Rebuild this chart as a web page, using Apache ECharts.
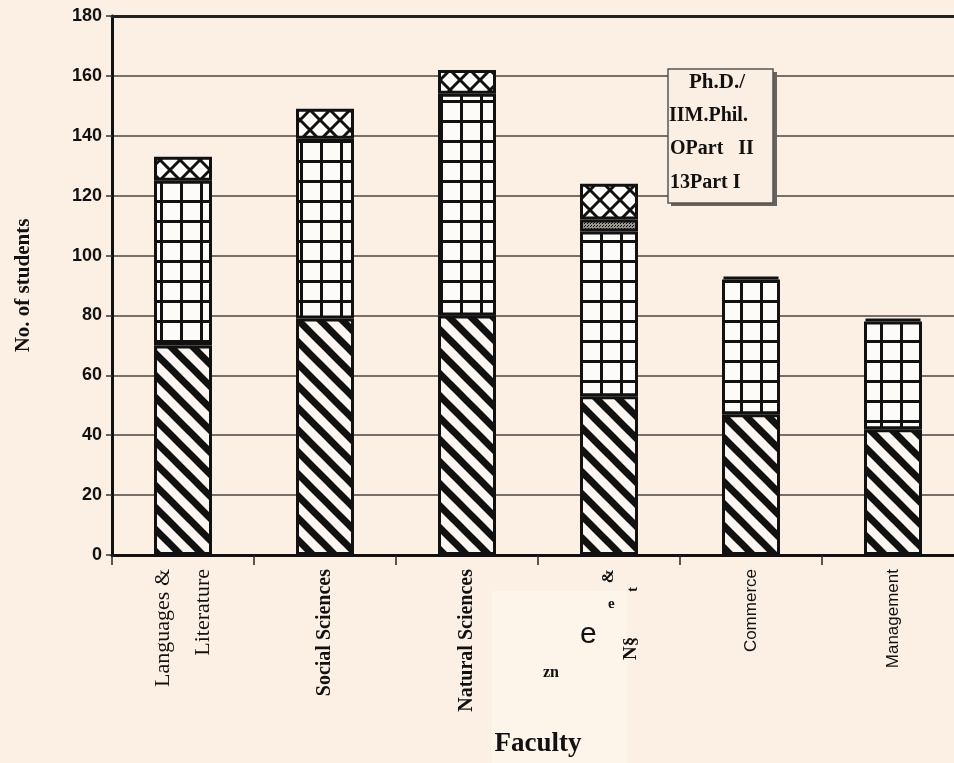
<!DOCTYPE html>
<html>
<head>
<meta charset="utf-8">
<title>No. of students by faculty</title>
<script src="https://cdn.jsdelivr.net/npm/echarts@6/dist/echarts.min.js"></script>
<style>
  html, body { margin: 0; padding: 0; background: #fcf0e5; }
  #main { width: 954px; height: 763px; }
</style>
</head>
<body>
<div id="main"></div>
<script>
// data
const faculties = ['Languages &\nLiterature', 'Social Sciences', 'Natural Sciences', '&', 'Commerce', 'Management'];
const partI = [70, 79, 80, 53, 47, 42];
const partII = [55, 60, 74, 55, 45, 36];
const mphil = [null, null, null, 4, 1, 1];
const phd = [8, 10, 8, 12, null, null];
const yTicks = [0, 20, 40, 60, 80, 100, 120, 140, 160, 180];

const chart = echarts.init(document.getElementById('main'));

// small canvases used as fill patterns
function makeTile(size, draw) {
  const c = document.createElement('canvas');
  c.width = size;
  c.height = size;
  draw(c.getContext('2d'), size);
  return c;
}

// diagonal lines that run past the tile so the edges join up
function diag(ctx, s, dir) {
  for (const x0 of [-s, 0, s]) {
    ctx.beginPath();
    if (dir > 0) {
      ctx.moveTo(x0 - s, -s);
      ctx.lineTo(x0 + 2 * s, 2 * s);
    } else {
      ctx.moveTo(x0 + 2 * s, -s);
      ctx.lineTo(x0 - s, 2 * s);
    }
    ctx.stroke();
  }
}

const hatch = makeTile(22, (ctx, s) => {
  ctx.fillStyle = '#fbf6f1';
  ctx.fillRect(0, 0, s, s);
  ctx.strokeStyle = '#111';
  ctx.lineWidth = 7;
  diag(ctx, s, 1);
});

const grid = makeTile(20, (ctx, s) => {
  ctx.fillStyle = '#fdfbf8';
  ctx.fillRect(0, 0, s, s);
  ctx.fillStyle = '#111';
  ctx.fillRect(0, 0, 3, s);
  ctx.fillRect(0, 0, s, 3);
});

const cross = makeTile(20, (ctx, s) => {
  ctx.fillStyle = '#fdfbf8';
  ctx.fillRect(0, 0, s, s);
  ctx.strokeStyle = '#111';
  ctx.lineWidth = 3;
  diag(ctx, s, 1);
  diag(ctx, s, -1);
});

const dots = makeTile(3, (ctx, s) => {
  ctx.fillStyle = '#9a948e';
  ctx.fillRect(0, 0, s, s);
  ctx.fillStyle = '#111';
  ctx.fillRect(0, 0, 1, 1);
  ctx.fillRect(2, 1, 1, 1);
});

function pat(c) {
  return { image: c, repeat: 'repeat' };
}

function barSeries(name, data, tile) {
  return {
    name: name,
    type: 'bar',
    stack: 'all',
    barWidth: 58,
    data: data,
    itemStyle: {
      color: pat(tile),
      borderColor: '#111',
      borderWidth: 3
    }
  };
}

const serif = '"Liberation Serif", "DejaVu Serif", serif';
const sans = '"Liberation Sans", Arial, sans-serif';

const option = {
  backgroundColor: '#fcf0e5',
  animation: false,
  grid: { left: 112, top: 16, width: 852, height: 539, outerBoundsMode: 'none' },
  xAxis: [
    {
      type: 'category',
      z: 5,
      data: faculties.map((f, i) => {
        if (i === 0) return { value: f, textStyle: { fontFamily: serif, fontSize: 22, lineHeight: 40 } };
        if (i === 1 || i === 2) return { value: f, textStyle: { fontFamily: serif, fontWeight: 'bold', fontSize: 20, letterSpacing: -1.5 } };
        if (i === 3) return { value: f, textStyle: { fontFamily: serif, fontWeight: 'bold', fontSize: 17 } };
        return { value: f, textStyle: { fontFamily: sans, fontSize: 17 } };
      }),
      axisLine: { lineStyle: { color: '#111', width: 3 } },
      axisTick: { show: true, interval: 0, length: 10, lineStyle: { color: '#222', width: 1.5 } },
      axisLabel: { rotate: 90, interval: 0, margin: 14, color: '#111' },
      name: 'Faculty',
      nameLocation: 'middle',
      nameGap: 176,
      nameTextStyle: { fontFamily: serif, fontWeight: 'bold', fontSize: 27, color: '#111' }
    },
    {
      type: 'category',
      position: 'top',
      data: faculties,
      axisLine: { lineStyle: { color: '#222', width: 3 } },
      axisTick: { show: false },
      axisLabel: { show: false }
    }
  ],
  yAxis: {
    type: 'value',
    min: yTicks[0],
    max: yTicks[yTicks.length - 1],
    interval: 20,
    axisLine: { show: true, lineStyle: { color: '#111', width: 3 } },
    axisTick: { show: true, length: 6, lineStyle: { color: '#333', width: 1.5 } },
    axisLabel: { fontFamily: sans, fontWeight: 'bold', fontSize: 18, color: '#111', margin: 10 },
    splitLine: { lineStyle: { color: '#4a4440', width: 1.5 } },
    name: 'No. of students',
    nameLocation: 'middle',
    nameRotate: 90,
    nameGap: 78,
    nameTextStyle: { fontFamily: serif, fontWeight: 'bold', fontSize: 21, color: '#111', letterSpacing: -1 }
  },
  series: [
    barSeries('Part I', partI, hatch),
    barSeries('Part II', partII, grid),
    barSeries('M.Phil.', mphil, dots),
    barSeries('Ph.D.', phd, cross)
  ],
  graphic: [
    // pasted patch over the fourth label
    { type: 'rect', z: -1, shape: { x: 492, y: 591, width: 135, height: 172 }, style: { fill: '#fdf4ea' } },
    { type: 'text', x: 580, y: 620, style: { text: 'e', font: '30px ' + sans, fill: '#111' }, z: 5 },
    { type: 'text', x: 543, y: 665, style: { text: 'zn', font: 'bold 16px ' + serif, fill: '#111' }, z: 5 },
    { type: 'text', x: 608, y: 597, style: { text: 'e', font: 'bold 15px ' + serif, fill: '#111' }, z: 5 },
    { type: 'text', x: 622, y: 660, rotation: Math.PI / 2, style: { text: 'N§', font: 'bold 19px ' + serif, fill: '#111' }, z: 5 },
    { type: 'text', x: 626, y: 592, rotation: Math.PI / 2, style: { text: 't', font: 'bold 15px ' + serif, fill: '#111' }, z: 5 },
    // legend box as it appears on the scan
    { type: 'rect', shape: { x: 671, y: 72, width: 106, height: 134 }, style: { fill: '#6a625c' }, z: 10 },
    { type: 'rect', shape: { x: 668, y: 69, width: 105, height: 134 }, style: { fill: '#fbefe3', stroke: '#555', lineWidth: 1.5 }, z: 11 },
    { type: 'text', left: 689, top: 72, style: { text: 'Ph.D./', font: 'bold 21px ' + serif, fill: '#111' }, z: 12 },
    { type: 'text', left: 669, top: 106, style: { text: 'IIM.Phil.', font: 'bold 20px ' + serif, fill: '#111', letterSpacing: -1 }, z: 12 },
    { type: 'text', left: 670, top: 139, style: { text: 'OPart   II', font: 'bold 20px ' + serif, fill: '#111' }, z: 12 },
    { type: 'text', left: 670, top: 173, style: { text: '13Part I', font: 'bold 20px ' + serif, fill: '#111', letterSpacing: -1 }, z: 12 }
  ]
};

chart.setOption(option);
</script>
</body>
</html>
